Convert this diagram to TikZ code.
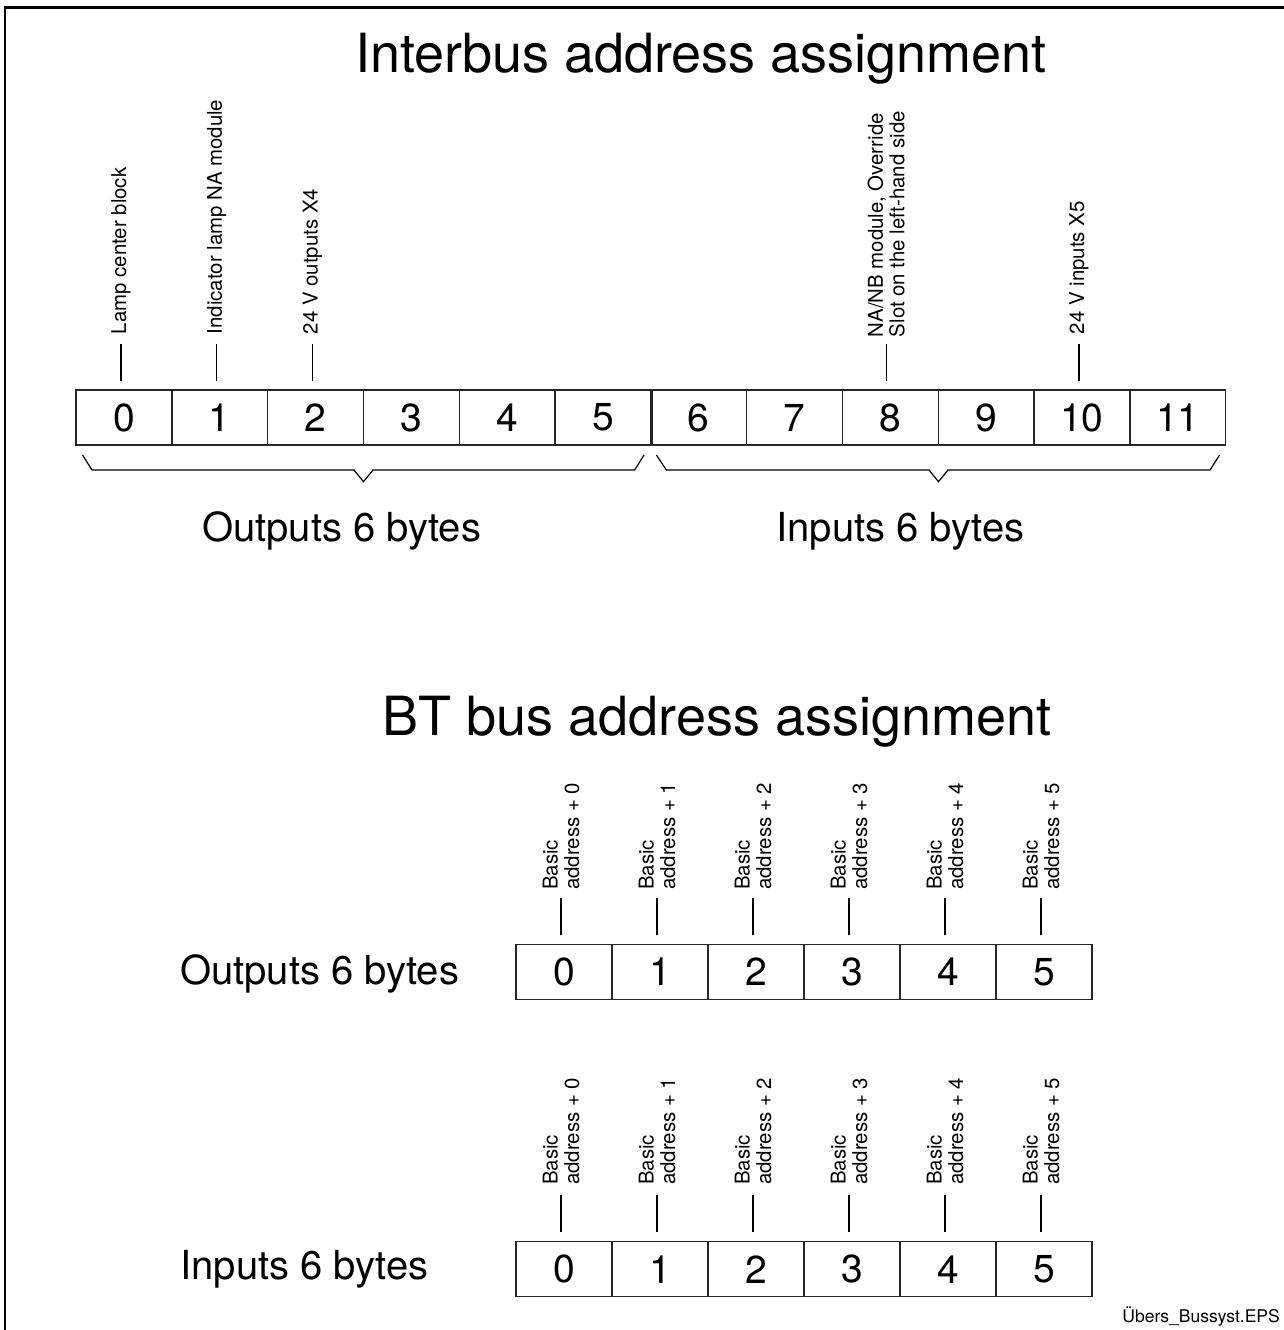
\documentclass[tikz,border=0pt]{standalone}
\usepackage{fontspec}
\setmainfont{TeX Gyre Heros}
\usetikzlibrary{calc}
\begin{document}
\begin{tikzpicture}[x=1pt,y=-1pt,
  cell/.style={draw=black!85,line width=1.4pt,minimum width=95.8pt,minimum height=55pt,inner sep=0pt,font=\fontsize{39}{39}\selectfont},
  bcell/.style={cell,minimum width=96pt},
  lbl/.style={rotate=90,anchor=west,inner ysep=0pt,inner xsep=10pt,font=\fontsize{20.4}{21.5}\selectfont,align=left},
  lead/.style={line width=1.2pt},
  big/.style={font=\fontsize{54}{54}\selectfont,inner sep=0pt},
  grp/.style={font=\fontsize{40}{40}\selectfont,inner sep=0pt},
  brace/.style={line width=1.2pt,line join=miter}]
\useasboundingbox (0,0) rectangle (1284,1330);
\draw[line width=2.6pt] (5,1330) -- (5,7.8) -- (1284,7.8);

% ---------- Interbus ----------
\node[big,anchor=base] (title1) at (701,73) {Interbus address assignment};
\foreach \i in {0,...,11}
  \node[cell] (t\i) at ({76+95.8*(\i+0.5)},417.5) {\i};
\draw[line width=2.4pt,black!85] (t5.north east) -- (t5.south east);

\foreach \i/\txt in {0/{Lamp center block},1/{Indicator lamp NA module},2/{24 V outputs X4},10/{24 V inputs X5}}{
  \node[lbl] (lt\i) at ($(t\i.north)+(-3,-45)$) {\txt};
  \draw[lead] (lt\i.west) -- ($(t\i.north)+(-3,-8)$);
}
\node[lbl,inner xsep=7pt] (lt8) at ($(t8.north)+(-4,-45)$) {NA/NB module, Override\\Slot on the left-hand side};
\draw[lead] (lt8.west) -- ($(t8.north)+(-4,-8)$);

\draw[brace] (82.5,455) -- (92,470) -- (354,470) -- (363.5,481.7) -- (373,470) -- (634.7,470) -- (644,455);
\draw[brace] (656.4,455) -- (666.3,470) -- (929,470) -- (938.5,481.7) -- (948,470) -- (1210,470) -- (1219.6,455);

\node[grp,anchor=base west] (og) at (202,541) {Outputs 6 bytes};
\node[grp,anchor=base west] (ig) at (776,541) {Inputs 6 bytes};

% ---------- BT bus ----------
\node[big,anchor=base] (title2) at (717,735) {BT bus address assignment};

\foreach \i in {0,...,5}{
  \node[bcell] (o\i) at ({516+96*(\i+0.5)},971.8) {\i};
  \node[lbl,inner xsep=8pt] (lo\i) at ($(o\i.north)+(-3,-45.5)$) {Basic\\address + \i};
  \draw[lead] (lo\i.west) -- ($(o\i.north)+(-3,-8.5)$);
  \node[bcell] (n\i) at ({516+96*(\i+0.5)},1269.2) {\i};
  \node[lbl] (ln\i) at ($(n\i.north)+(-3,-46)$) {Basic\\address + \i};
  \draw[lead] (ln\i.west) -- ($(n\i.north)+(-3,-9)$);
}
\node[grp,anchor=base west] (ob) at (180,984) {Outputs 6 bytes};
\node[grp,anchor=base west] (ib) at (180,1279) {Inputs 6 bytes};

\node[anchor=base east,inner sep=0pt,font=\fontsize{17.5}{18}\selectfont] (file) at (1280,1322) {Übers\_Bussyst.EPS};
\end{tikzpicture}
\end{document}
